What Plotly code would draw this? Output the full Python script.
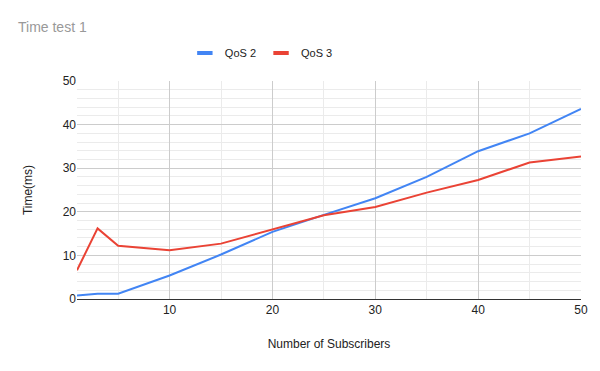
import plotly.graph_objects as go

subscribers = [1, 3, 5, 10, 15, 20, 25, 30, 35, 40, 45, 50]
qos2 = [0.8, 1.2, 1.2, 5.4, 10.2, 15.4, 19.3, 23.1, 28.0, 33.9, 38.0, 43.6]
qos3 = [6.6, 16.2, 12.2, 11.2, 12.7, 16.0, 19.2, 21.1, 24.4, 27.3, 31.3, 32.7]
x_ticks = [10, 20, 30, 40, 50]
y_ticks = [0, 10, 20, 30, 40, 50]
series_names = ["QoS 2", "QoS 3"]
colors = ["#4285F4", "#EA4335"]

FONT = "Liberation Sans, Arial, sans-serif"

fig = go.Figure()
for name, vals, col in zip(series_names, [qos2, qos3], colors):
    fig.add_trace(go.Scatter(x=subscribers, y=vals, mode="lines", name=name,
                             line=dict(color=col, width=2), showlegend=False))
    fig.add_trace(go.Scatter(x=[None], y=[None], mode="markers", name=name,
                             marker=dict(symbol="line-ew", size=11,
                                         line=dict(color=col, width=4)),
                             showlegend=True))

fig.update_layout(
    width=600, height=371,
    margin=dict(l=77, r=19, t=81, b=72, autoexpand=False),
    paper_bgcolor="white", plot_bgcolor="white",
    font=dict(family=FONT, size=12, color="#222222"),
    title=dict(text="Time test 1", x=18/600, xref="container", xanchor="left",
               y=1-27/371, yref="container", yanchor="middle",
               font=dict(family=FONT, size=14, color="#999999")),
    legend=dict(orientation="h", x=0.214, xanchor="left", y=1-53/371, yref="container",
                yanchor="middle", font=dict(family=FONT, size=11, color="#222222"),
                itemwidth=30, bgcolor="rgba(0,0,0,0)"),
    xaxis=dict(range=[1, 50], tickvals=x_ticks, ticks="", showgrid=True,
               gridcolor="#cccccc", gridwidth=1, zeroline=False,
               showline=True, linecolor="#333333", linewidth=1,
               minor=dict(dtick=5, tick0=0, showgrid=True, gridcolor="#ebebeb", gridwidth=1),
               title=dict(text="Number of Subscribers", standoff=23,
                          font=dict(family=FONT, size=12, color="#222222")),
               tickfont=dict(family=FONT, size=12, color="#222222")),
    yaxis=dict(range=[0, 50], tickvals=y_ticks, ticks="", showgrid=True,
               gridcolor="#cccccc", gridwidth=1, zeroline=False,
               minor=dict(dtick=2, tick0=0, showgrid=True, gridcolor="#ebebeb", gridwidth=1),
               title=dict(text="Time(ms)", standoff=27,
                          font=dict(family=FONT, size=12, color="#222222")),
               tickfont=dict(family=FONT, size=12, color="#222222")),
)

fig.write_html("out.html", config={"displayModeBar": False},
               post_script="document.body.style.margin='0px';")
